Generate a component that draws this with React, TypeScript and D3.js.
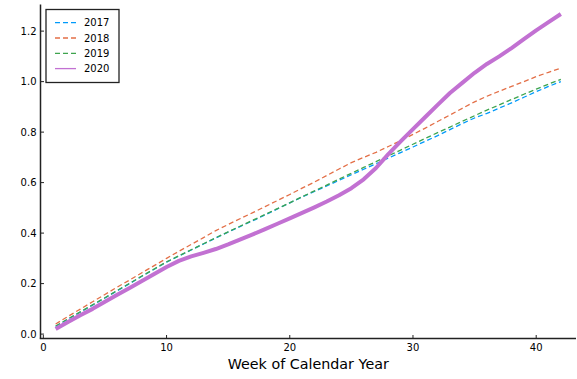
import React from "react";
import * as d3 from "d3";

const weeks: number[] = Array.from({ length: 42 }, (_, i) => i + 1);

const series2017: number[] = [
  0.030, 0.059, 0.087, 0.115, 0.143, 0.172, 0.200, 0.229, 0.257, 0.285,
  0.309, 0.333, 0.357, 0.381, 0.404, 0.427, 0.449, 0.472, 0.496, 0.520,
  0.543, 0.565, 0.587, 0.609, 0.631, 0.653, 0.675, 0.697, 0.719, 0.741,
  0.764, 0.786, 0.810, 0.834, 0.856, 0.874, 0.895, 0.916, 0.938, 0.960,
  0.981, 1.000,
];
const series2018: number[] = [
  0.040, 0.070, 0.099, 0.128, 0.157, 0.186, 0.214, 0.243, 0.271, 0.300,
  0.328, 0.355, 0.382, 0.410, 0.434, 0.458, 0.481, 0.505, 0.529, 0.553,
  0.578, 0.602, 0.628, 0.654, 0.679, 0.700, 0.720, 0.743, 0.766, 0.791,
  0.816, 0.842, 0.868, 0.894, 0.920, 0.942, 0.962, 0.981, 1.000, 1.020,
  1.037, 1.053,
];
const series2019: number[] = [
  0.032, 0.060, 0.088, 0.116, 0.144, 0.173, 0.201, 0.230, 0.258, 0.286,
  0.310, 0.334, 0.358, 0.382, 0.405, 0.428, 0.451, 0.474, 0.497, 0.520,
  0.544, 0.567, 0.590, 0.614, 0.637, 0.660, 0.683, 0.706, 0.729, 0.752,
  0.775, 0.798, 0.820, 0.843, 0.865, 0.887, 0.908, 0.929, 0.950, 0.970,
  0.990, 1.009,
];
const series2020: number[] = [
  0.020, 0.048, 0.075, 0.100, 0.128, 0.156, 0.183, 0.210, 0.238, 0.266,
  0.290, 0.308, 0.322, 0.337, 0.355, 0.375, 0.395, 0.416, 0.437, 0.458,
  0.480, 0.502, 0.525, 0.550, 0.578, 0.613, 0.658, 0.713, 0.763, 0.812,
  0.860, 0.908, 0.955, 0.995, 1.035, 1.070, 1.100, 1.133, 1.168, 1.203,
  1.236, 1.268,
];

const seriesNames: string[] = ["2017", "2018", "2019", "2020"];
const seriesColors: string[] = ["#009AFA", "#E36F47", "#3EA44E", "#C271D2"];
const allSeries: number[][] = [series2017, series2018, series2019, series2020];

const xTicks: number[] = [0, 10, 20, 30, 40];
const yTicks: number[] = [0, 0.2, 0.4, 0.6, 0.8, 1.0, 1.2];
const xLabel = "Week of Calendar Year";

const W = 577;
const H = 379;
const FONT = "'DejaVu Sans', sans-serif";

export default function App() {
  const xMinD = d3.min(weeks)!;
  const xMaxD = d3.max(weeks)!;
  const xPad = (xMaxD - xMinD) * 0.03;
  const allVals = allSeries.flat();
  const yMinD = d3.min(allVals)!;
  const yMaxD = d3.max(allVals)!;
  const yPad = (yMaxD - yMinD) * 0.03;

  const left = 40.5;
  const right = 576;
  const top = 4.5;
  const bottom = 338.5;

  const x = d3.scaleLinear().domain([xMinD - xPad, xMaxD + xPad]).range([left, right]);
  const y = d3.scaleLinear().domain([yMinD - yPad, yMaxD + yPad]).range([bottom, top]);

  const line = d3
    .line<number>()
    .x((_, i) => x(weeks[i]))
    .y((d) => y(d))
    .curve(d3.curveLinear);

  return (
    <svg
      width={W}
      height={H}
      style={{ position: "absolute", left: 0, top: 0, background: "#fff" }}
      fontFamily={FONT}
    >
      <rect x={0} y={0} width={W} height={H} fill="#fff" />
      {allSeries.map((s, i) => (
        <path
          key={seriesNames[i]}
          d={line(s) || ""}
          fill="none"
          stroke={seriesColors[i]}
          strokeWidth={i === 3 ? 4 : 1.3}
          strokeDasharray={i === 3 ? undefined : "5,3"}
          strokeLinejoin="round"
        />
      ))}
      <line x1={left} x2={left} y1={top} y2={bottom} stroke="#222" strokeWidth={1.5} />
      <line x1={left - 0.75} x2={right} y1={bottom} y2={bottom} stroke="#222" strokeWidth={1.5} />
      {xTicks.map((t) => (
        <g key={"xt" + t}>
          <line x1={x(t)} x2={x(t)} y1={bottom} y2={bottom - 3.5} stroke="#222" strokeWidth={1} />
          <text x={x(t)} y={bottom + 12.5} fontSize={10} textAnchor="middle" fill="#000">
            {t}
          </text>
        </g>
      ))}
      {yTicks.map((t) => (
        <g key={"yt" + t}>
          <line x1={left} x2={left + 3.5} y1={y(t)} y2={y(t)} stroke="#222" strokeWidth={1} />
          <text
            x={left - 4}
            y={y(t)}
            fontSize={10}
            textAnchor="end"
            dominantBaseline="central"
            fill="#000"
          >
            {t.toFixed(1)}
          </text>
        </g>
      ))}
      <text x={(left + right) / 2} y={369} fontSize={14.3} textAnchor="middle" fill="#000">
        {xLabel}
      </text>
      <rect x={46} y={9.5} width={73} height={73} fill="#fff" stroke="#222" strokeWidth={1.3} />
      {seriesNames.map((n, i) => {
        const ly = 22.7 + i * 15.3;
        return (
          <g key={"lg" + n}>
            <line
              x1={55}
              x2={76}
              y1={ly}
              y2={ly}
              stroke={seriesColors[i]}
              strokeWidth={1.3}
              strokeDasharray={i === 3 ? undefined : "5,3"}
            />
            <text x={84} y={ly} fontSize={10} dominantBaseline="central" fill="#000">
              {n}
            </text>
          </g>
        );
      })}
    </svg>
  );
}
